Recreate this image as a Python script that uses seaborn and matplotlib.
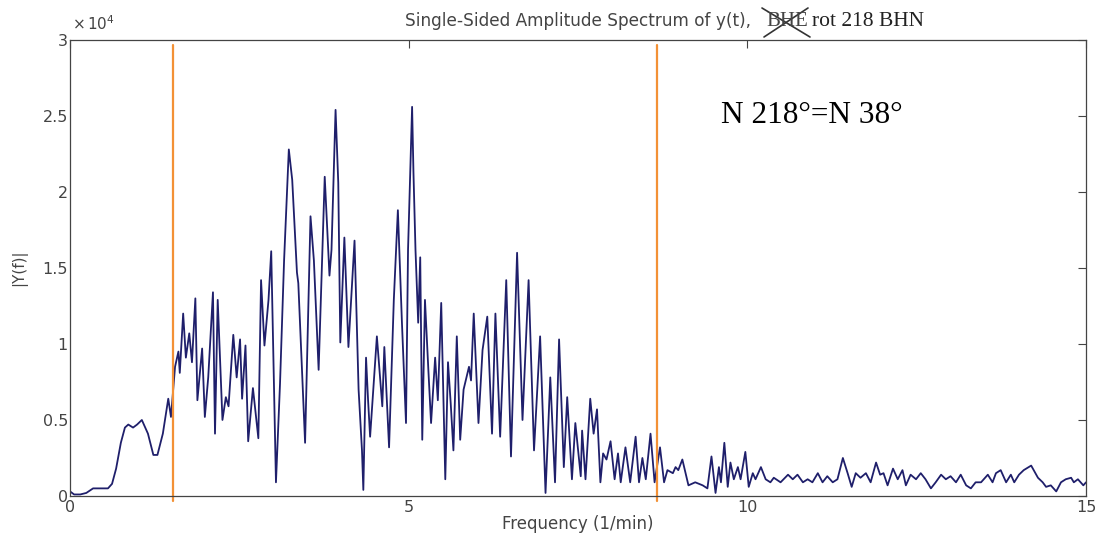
import matplotlib
matplotlib.use("Agg")
import matplotlib.pyplot as plt
import pandas as pd
import seaborn as sns
from matplotlib.lines import Line2D

# spectrum vertices, amplitude in units of 1e4
freq_low = [0.00, 0.06, 0.15, 0.24, 0.34, 0.44, 0.56, 0.62, 0.68, 0.75,
            0.81, 0.86, 0.93, 0.99, 1.06, 1.15, 1.23, 1.29, 1.37, 1.45,
            1.49, 1.55, 1.60, 1.62, 1.67, 1.71, 1.76, 1.80, 1.85, 1.88,
            1.95, 1.99, 2.04, 2.11, 2.14, 2.18, 2.25, 2.30, 2.34, 2.41,
            2.46, 2.51, 2.54, 2.59, 2.63, 2.70, 2.78, 2.82, 2.87, 2.93,
            2.97]
amp_low = [0.03, 0.01, 0.01, 0.02, 0.05, 0.05, 0.05, 0.08, 0.18, 0.35,
           0.45, 0.47, 0.45, 0.47, 0.50, 0.41, 0.27, 0.27, 0.41, 0.64,
           0.52, 0.85, 0.95, 0.81, 1.20, 0.91, 1.07, 0.88, 1.30, 0.63,
           0.97, 0.52, 0.78, 1.34, 0.41, 1.29, 0.50, 0.65, 0.59, 1.06,
           0.78, 1.03, 0.64, 0.99, 0.36, 0.71, 0.38, 1.42, 0.99, 1.29,
           1.61]

freq_mid = [3.04, 3.10, 3.16, 3.23, 3.28, 3.35, 3.37, 3.47, 3.55, 3.60,
            3.67, 3.76, 3.83, 3.86, 3.92, 3.96, 3.99, 4.05, 4.11, 4.20,
            4.26, 4.31, 4.33, 4.37, 4.40, 4.43, 4.53, 4.61, 4.64, 4.71,
            4.78, 4.84, 4.90, 4.96, 4.99, 5.05, 5.07, 5.10, 5.14, 5.17,
            5.20, 5.24, 5.29, 5.33, 5.39, 5.43, 5.48, 5.51, 5.54, 5.58,
            5.62, 5.66, 5.71, 5.76, 5.81, 5.89, 5.92, 5.96, 6.03, 6.09,
            6.16, 6.23, 6.28, 6.35, 6.44, 6.51, 6.60, 6.68, 6.77, 6.85,
            6.94, 7.02, 7.09, 7.16, 7.22, 7.29, 7.34, 7.41, 7.46, 7.54,
            7.56, 7.61]
amp_mid = [0.09, 0.74, 1.55, 2.28, 2.08, 1.47, 1.40, 0.35, 1.84, 1.55,
           0.83, 2.10, 1.45, 1.62, 2.54, 2.06, 1.01, 1.70, 0.98, 1.68,
           0.70, 0.30, 0.04, 0.91, 0.63, 0.39, 1.05, 0.59, 0.98, 0.32,
           1.29, 1.88, 1.14, 0.48, 1.62, 2.56, 2.13, 1.62, 1.14, 1.57,
           0.37, 1.29, 0.83, 0.48, 0.91, 0.63, 1.27, 0.70, 0.11, 0.88,
           0.61, 0.30, 1.05, 0.37, 0.70, 0.85, 0.76, 1.20, 0.48, 0.96,
           1.18, 0.41, 1.20, 0.39, 1.42, 0.26, 1.60, 0.50, 1.42, 0.30,
           1.05, 0.02, 0.78, 0.09, 1.03, 0.19, 0.65, 0.11, 0.48, 0.13,
           0.43, 0.11]

freq_high = [7.68, 7.73, 7.78, 7.83, 7.87, 7.92, 7.98, 8.04, 8.09, 8.13,
             8.20, 8.27, 8.35, 8.40, 8.45, 8.50, 8.57, 8.63, 8.71, 8.77,
             8.82, 8.90, 8.94, 8.98, 9.04, 9.13, 9.23, 9.34, 9.41, 9.47,
             9.53, 9.58, 9.61, 9.66, 9.71, 9.75, 9.80, 9.86, 9.90, 9.97,
             10.02, 10.08, 10.12, 10.20, 10.27, 10.34, 10.39, 10.49, 10.60, 10.67,
             10.74, 10.82, 10.89, 10.96, 11.04, 11.11, 11.18, 11.26, 11.33, 11.41,
             11.48, 11.54, 11.60, 11.67, 11.75, 11.82, 11.90, 11.96, 12.01, 12.07,
             12.15, 12.22, 12.29, 12.34, 12.41, 12.49, 12.56, 12.63, 12.71, 12.78,
             12.86, 12.93, 13.00, 13.08, 13.15, 13.23, 13.30, 13.37, 13.45, 13.55,
             13.62, 13.67, 13.74, 13.82, 13.89, 13.94, 14.01, 14.08, 14.19, 14.29,
             14.36, 14.41, 14.48, 14.56, 14.63, 14.70, 14.78, 14.82, 14.88, 14.96,
             15.00]
amp_high = [0.64, 0.41, 0.57, 0.09, 0.28, 0.24, 0.36, 0.11, 0.28, 0.09,
            0.32, 0.09, 0.39, 0.09, 0.25, 0.11, 0.41, 0.09, 0.32, 0.09,
            0.17, 0.15, 0.19, 0.17, 0.24, 0.07, 0.09, 0.07, 0.05, 0.26,
            0.02, 0.19, 0.09, 0.35, 0.06, 0.22, 0.11, 0.19, 0.11, 0.29,
            0.06, 0.15, 0.11, 0.19, 0.11, 0.09, 0.12, 0.09, 0.14, 0.11,
            0.14, 0.09, 0.11, 0.09, 0.15, 0.09, 0.13, 0.09, 0.11, 0.25,
            0.15, 0.06, 0.15, 0.12, 0.15, 0.09, 0.22, 0.14, 0.15, 0.07,
            0.18, 0.11, 0.17, 0.07, 0.14, 0.11, 0.15, 0.11, 0.05, 0.09,
            0.14, 0.11, 0.13, 0.09, 0.14, 0.07, 0.05, 0.09, 0.09, 0.14,
            0.09, 0.15, 0.17, 0.09, 0.14, 0.09, 0.14, 0.17, 0.20, 0.12,
            0.09, 0.06, 0.07, 0.03, 0.09, 0.11, 0.12, 0.09, 0.11, 0.07,
            0.09]

cut_freqs = [1.52, 8.67]
xticks = [0, 5, 10, 15]
yticks = [0, 0.5, 1, 1.5, 2, 2.5, 3]
ytick_labels = ["0", "0.5", "1", "1.5", "2", "2.5", "3"]

LINE = "#1f1f6b"
ORANGE = "#f39136"
GREY = "#444444"
SANS = "DejaVu Sans"
SERIF = "Liberation Serif"


def main():
    sns.set_theme(style="white")
    plt.rcParams["font.family"] = [SANS]

    df = pd.DataFrame({
        "freq": freq_low + freq_mid + freq_high,
        "amp": amp_low + amp_mid + amp_high,
    })

    fig = plt.figure(figsize=(10.98, 5.38), dpi=100)
    ax = fig.add_axes([0.0638, 0.0781, 0.9253, 0.8476])

    sns.lineplot(data=df, x="freq", y="amp", ax=ax, color=LINE,
                 linewidth=1.3, estimator=None, sort=False)
    for f in cut_freqs:
        ax.axvline(f, ymin=-0.012, ymax=0.99, color=ORANGE, lw=1.6, clip_on=False)

    ax.set_xlim(0, 15)
    ax.set_ylim(0, 3)
    ax.set_xticks(xticks)
    ax.set_yticks(yticks)
    ax.set_yticklabels(ytick_labels)
    ax.tick_params(direction="in", top=True, right=True, length=6, width=0.8,
                   color=GREY, labelcolor=GREY, labelsize=11.5)
    ax.tick_params(axis="y", pad=1.5)
    ax.tick_params(axis="x", pad=3)
    for sp in ax.spines.values():
        sp.set_color(GREY)
        sp.set_linewidth(0.9)

    ax.set_xlabel("Frequency (1/min)", fontsize=12, color=GREY)
    ax.set_ylabel("|Y(f)|", fontsize=11, color=GREY)
    ax.xaxis.set_label_coords(0.5, -0.042)
    ax.yaxis.set_label_coords(-0.042, 0.5)

    # MATLAB style exponent above the axis
    fig.text(72 / 1098, 1 - 24 / 538, r"$\times\,10^{4}$", fontsize=11,
             color=GREY, ha="left", va="center")

    # title with the crossed-out channel name
    ty = 1 - 21 / 538
    fig.text(405 / 1098, ty, "Single-Sided Amplitude Spectrum of y(t), ",
             fontsize=12.2, color=GREY, ha="left", va="center")
    fig.text(766 / 1098, ty, "BHE", family=SERIF, fontsize=15,
             color=GREY, ha="left", va="center")
    fig.add_artist(Line2D([762 / 1098, 810 / 1098], [1 - 8 / 538, 1 - 37 / 538],
                          color="#333333", lw=1.2, transform=fig.transFigure))
    fig.add_artist(Line2D([764 / 1098, 808 / 1098], [1 - 37 / 538, 1 - 8 / 538],
                          color="#333333", lw=1.2, transform=fig.transFigure))
    fig.text(812 / 1098, ty, "rot 218 BHN", family=SERIF, fontsize=15.5,
             color="#222222", ha="left", va="center")

    ax.text(0.641, 0.835, "N 218\u00b0=N 38\u00b0", transform=ax.transAxes,
            family=SERIF, fontsize=22.5, color="black", ha="left", va="center")

    fig.savefig("out.png", dpi=100)
    plt.close(fig)


if __name__ == "__main__":
    main()
